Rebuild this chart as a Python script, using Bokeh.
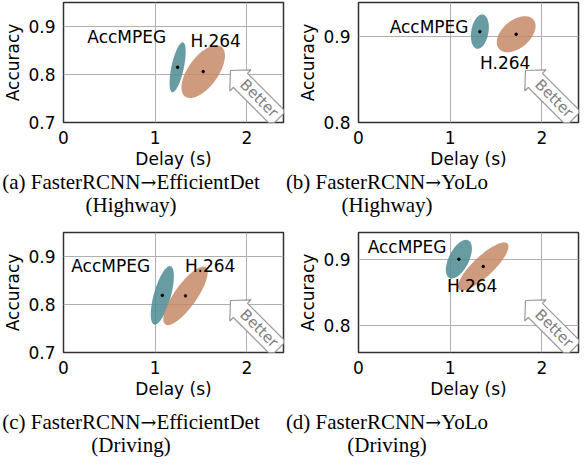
import numpy as np
from bokeh.plotting import figure
from bokeh.layouts import column, row
from bokeh.models import Div, Spacer
from bokeh.core.properties import value
from bokeh.embed import file_html
from bokeh.resources import INLINE

# ---------------- data ----------------
methods = ["AccMPEG", "H.264"]
caption_model = ["(a) FasterRCNN→EfficientDet", "(b) FasterRCNN→YoLo",
                 "(c) FasterRCNN→EfficientDet", "(d) FasterRCNN→YoLo"]
caption_scene = ["(Highway)", "(Highway)", "(Driving)", "(Driving)"]

# mean delay / accuracy for each panel: [AccMPEG, H.264]
delay_mean = [[1.245, 1.524], [1.324, 1.720], [1.078, 1.331], [1.095, 1.361]]
acc_mean = [[0.815, 0.806], [0.906, 0.903], [0.819, 0.818], [0.900, 0.889]]
# spread (ellipse half extents) and delay/accuracy correlation
delay_spread = [[0.088, 0.237], [0.098, 0.212], [0.126, 0.242], [0.142, 0.275]]
acc_spread = [[0.052, 0.055], [0.020, 0.021], [0.061, 0.061], [0.029, 0.036]]
delay_acc_corr = [[0.62, 0.60], [0.25, 0.45], [0.65, 0.80], [0.55, 0.83]]

x_ticks = [0, 1, 2]
y_ticks = [[0.7, 0.8, 0.9], [0.8, 0.9], [0.7, 0.8, 0.9], [0.8, 0.9]]
x_range = (0, 2.4)
y_ranges = [(0.7, 0.95), (0.8, 0.94), (0.7, 0.95), (0.76, 0.94)]

# ---------------- layout / style ----------------
label_x = [[0.69, 1.66], [0.77, 1.60], [0.515, 1.60], [0.53, 1.24]]
label_y = [[0.878, 0.869], [0.9116, 0.8697], [0.881, 0.881], [0.918, 0.8595]]
colors = ["#4d8b93", "#c78a67"]
FW, FH = 220, 120
left_border = [54, 56]
right_border = [12, 6]
caption_width = [262, 250]
SANS = "DejaVu Sans"
SERIF = "Liberation Serif"


def to_data(ox, oy, xr, yr):
    sx = (xr[1] - xr[0]) / FW
    sy = (yr[1] - yr[0]) / FH
    return xr[1] + ox * sx, yr[0] - oy * sy


def make_panel(i):
    col = i % 2
    yr = y_ranges[i]
    p = figure(frame_width=FW, frame_height=FH,
               x_range=x_range, y_range=yr,
               output_backend="svg", toolbar_location=None, title=None,
               min_border_left=left_border[col], min_border_right=right_border[col],
               min_border_top=2, min_border_bottom=44)
    p.background_fill_color = "white"
    p.border_fill_color = "white"
    p.outline_line_color = "#303030"
    p.outline_line_width = 1.5
    p.xaxis.ticker = x_ticks
    p.yaxis.ticker = y_ticks[i]
    for ax in (p.xaxis[0], p.yaxis[0]):
        ax.axis_line_color = None
        ax.major_tick_line_color = None
        ax.minor_tick_line_color = None
        ax.major_label_text_font = SANS
        ax.major_label_text_font_size = "17px"
        ax.major_label_text_color = "black"
        ax.axis_label_text_font = SANS
        ax.axis_label_text_font_size = "17px"
        ax.axis_label_text_font_style = "normal"
        ax.axis_label_text_color = "black"
        ax.major_label_standoff = 2
        ax.axis_label_standoff = 2
    p.xaxis.axis_label = "Delay (s)"
    p.yaxis.axis_label = "Accuracy"
    p.grid.grid_line_color = "#b0b0b0"
    p.grid.grid_line_width = 1

    t = np.linspace(0, 2 * np.pi, 120)
    for k in range(2):
        cx, cy = delay_mean[i][k], acc_mean[i][k]
        sx, sy, r = delay_spread[i][k], acc_spread[i][k], delay_acc_corr[i][k]
        ex = cx + sx * np.cos(t)
        ey = cy + sy * (r * np.cos(t) + np.sqrt(1 - r * r) * np.sin(t))
        p.patch(ex, ey, fill_color=colors[k], fill_alpha=0.85, line_color=None)
    p.scatter([delay_mean[i][0], delay_mean[i][1]], [acc_mean[i][0], acc_mean[i][1]],
              size=2.5, color="black")
    p.text(x=label_x[i], y=label_y[i], text=methods, text_font=value(SANS),
           text_font_size="17px", text_align="center", text_baseline="middle",
           text_color="black")

    # "Better" hollow arrow (pixel geometry relative to bottom-right of frame)
    tip = np.array([-53.0, -52.0])
    d = np.array([1.0, 1.0]) / np.sqrt(2)
    n = np.array([1.0, -1.0]) / np.sqrt(2)
    hl, hw, sw, L = 14.0, 15.0, 10.0, 68.0
    local = [(0, 0), (hl, hw), (hl, sw), (L, sw), (L, -sw), (hl, -sw), (hl, -hw)]
    axs, ays = [], []
    for u, v in local:
        o = tip + u * d + v * n
        X, Y = to_data(o[0], o[1], x_range, yr)
        axs.append(X)
        ays.append(Y)
    p.patch(axs, ays, fill_color="white", line_color="#9a9a9a", line_width=1.2)
    c = tip + 40.0 * d + 0.5 * n
    tx, ty = to_data(c[0], c[1], x_range, yr)
    p.text(x=[tx], y=[ty], text=["Better"], angle=-45, angle_units="deg",
           text_font=value(SANS), text_font_size="15px", text_color="#808080",
           text_align="center", text_baseline="middle")
    return p


def make_caption(i, height):
    col = i % 2
    model = caption_model[i].replace(
        "→", '<span style="font-family:\'DejaVu Serif\';font-size:19px;'
             'margin:0 0px">→</span>')
    html = model + "<br>" + caption_scene[i]
    return Div(text=html, width=caption_width[col], height=height, margin=0,
               styles={"font-family": SERIF, "font-size": "21px",
                       "line-height": "23px", "text-align": "center",
                       "white-space": "nowrap", "color": "black"})


panels = [make_panel(i) for i in range(4)]
layout = column(
    row(panels[0], panels[1]),
    row(make_caption(0, 59), make_caption(1, 59)),
    row(panels[2], panels[3]),
    Spacer(height=10, margin=0),
    row(make_caption(2, 46), make_caption(3, 46)),
)
open("out.html", "w").write(file_html(layout, INLINE))
